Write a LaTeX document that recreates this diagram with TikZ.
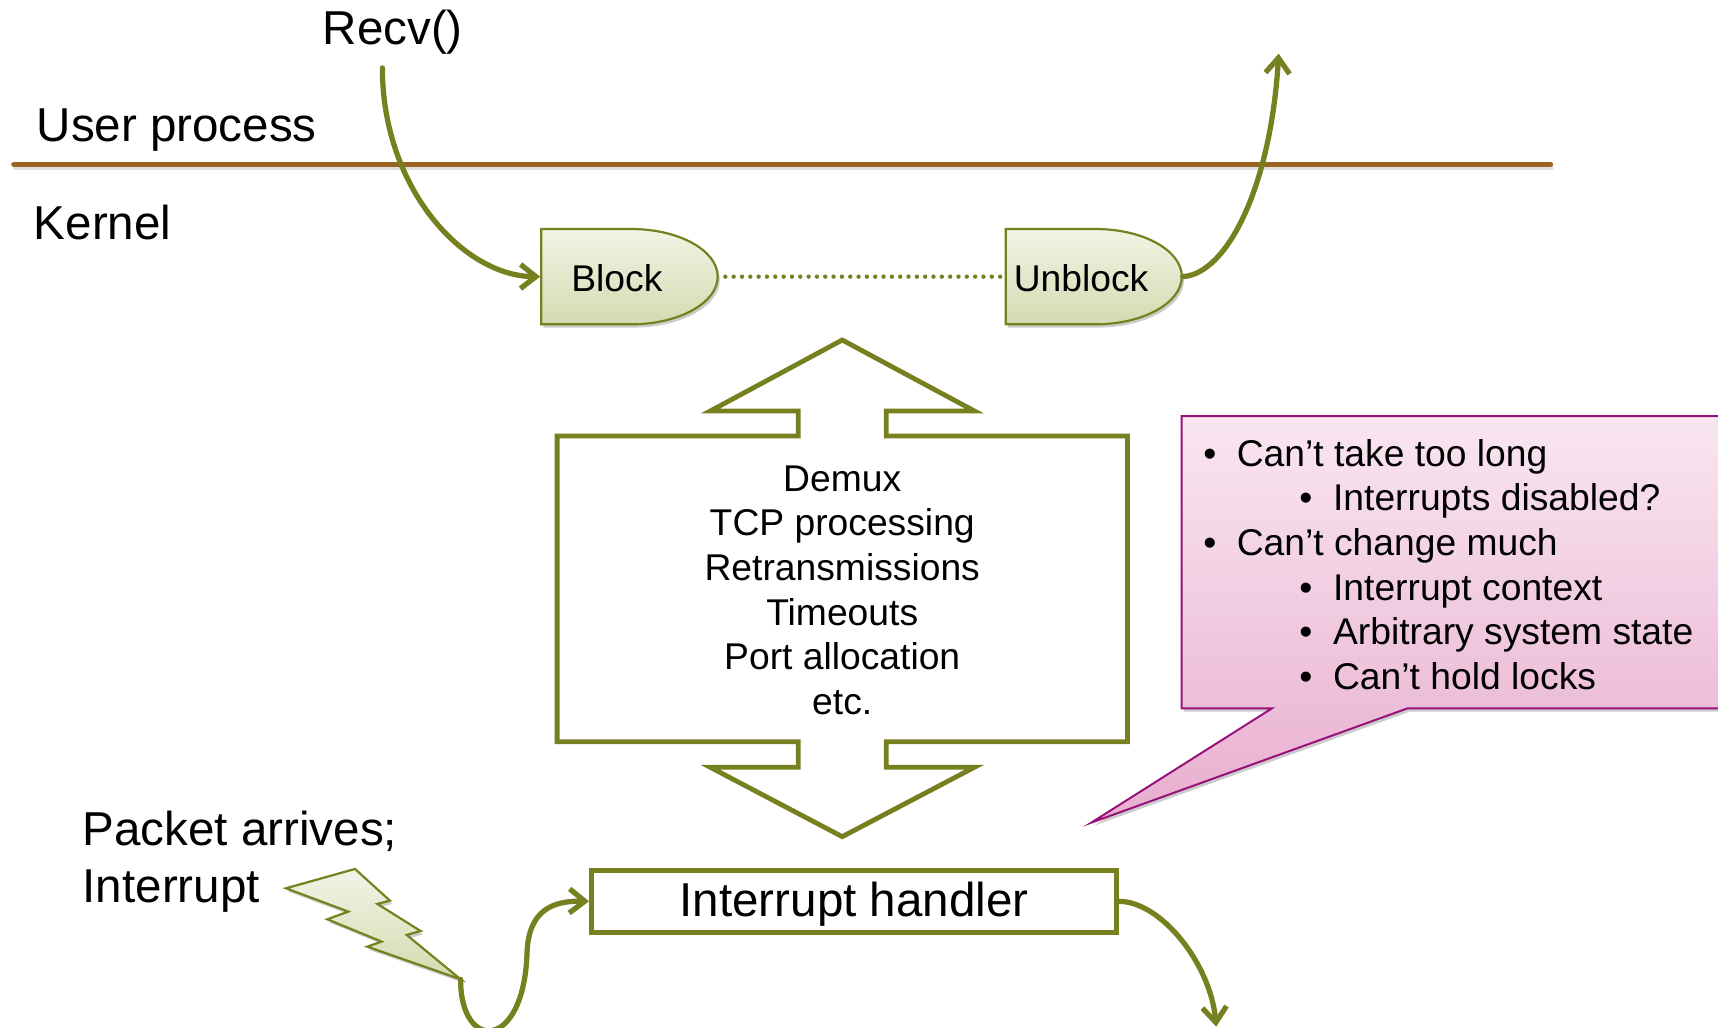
\documentclass[tikz,border=0pt]{standalone}
\usepackage{fontspec}
\setmainfont{Liberation Sans}
\usetikzlibrary{arrows.meta,shadows}
\definecolor{olv}{HTML}{76801E}
\definecolor{brn}{HTML}{9B6421}
\definecolor{gTop}{HTML}{F2F4E6}
\definecolor{gBot}{HTML}{D3DBB0}
\definecolor{pTop}{HTML}{F9E6F0}
\definecolor{pBot}{HTML}{E8AECF}
\definecolor{pBorder}{HTML}{98107A}
\begin{document}
\begin{tikzpicture}[x=0.5pt,y=-0.5pt,
  fbig/.style={font=\fontsize{21.7}{25.85}\selectfont},
  fsmall/.style={font=\fontsize{17}{20.38}\selectfont},
  txt/.style={inner sep=0pt, outer sep=0pt},
  conn/.style={draw=olv, line width=2.4pt, line cap=round, -{Straight Barb[length=7pt,width=11pt]}},
  softshadow/.style={drop shadow={shadow xshift=1pt, shadow yshift=-1.5pt, opacity=0.2, fill=black}},
  dshape/.style={draw=olv, line width=1pt, top color=gTop, bottom color=gBot, softshadow},
  dotline/.style={draw=olv, line width=2pt, line cap=round, dash pattern=on 0pt off 3.8pt},
  bigarrow/.style={draw=olv, line width=2.2pt, fill=white, line join=miter},
  ihbox/.style={draw=olv, line width=2.4pt, fill=white, minimum width=239.5pt, minimum height=28.35pt,
    inner sep=0pt, text height=15.5pt, text depth=1.5pt},
  bolt/.style={draw=olv, line width=1pt, top color=gTop, bottom color=gBot, softshadow, line join=miter},
  callout/.style={draw=pBorder, line width=0.9pt, top color=pTop, bottom color=pBot, softshadow, line join=miter},
  divider/.style={draw=brn, line width=2.3pt, line cap=round}
]
\useasboundingbox (0,0) rectangle (1568,938);

% divider line between user process and kernel
\draw[black!25, line width=2pt, line cap=round, opacity=0.5] (14,153.5) -- (1416,153.5);
\draw[divider] (12.5,150) -- (1415.3,150);

% labels
\node[txt, fbig, anchor=base west] (recv) at (294.5,41) {Recv()};
\node[txt, fbig, anchor=base west] (user) at (33.5,129.3) {User process};
\node[txt, fbig, anchor=base west] (kernel) at (31,218.4) {Kernel};

% Block / Unblock shapes
\path[dshape] (494,209) -- (576,209) .. controls (619.6,209) and (655,228.5) .. (655,252.5)
  .. controls (655,276.5) and (619.6,296) .. (576,296) -- (494,296) -- cycle;
\path[dshape] (918,209) -- (999.7,209) .. controls (1043.3,209) and (1078.6,228.5) .. (1078.6,252.5)
  .. controls (1078.6,276.5) and (1043.3,296) .. (999.7,296) -- (918,296) -- cycle;
\node[txt, fsmall, anchor=base] (block) at (563,266.2) {Block};
\node[txt, fsmall, anchor=base] (unblock) at (986.7,266.2) {Unblock};

\coordinate (recvS) at (349,62);
\coordinate (blockW) at (493,252.5);
\coordinate (blockE) at (655,252.5);
\coordinate (unblockW) at (918,252.5);
\coordinate (unblockE) at (1079.5,252.5);
\coordinate (unblockUp) at (1167,49);

\draw[dotline] ([xshift=3.5pt]blockE) -- ([xshift=-2pt]unblockW);
\draw[conn] (recvS) .. controls (349,172) and (423,252) .. (blockW);
\draw[conn] (unblockE) .. controls (1120,250) and (1160,170) .. (unblockUp);

% big double arrow
\path[bigarrow] (768.7,310.3) -- (889.3,375.1) -- (808.9,375.1) -- (808.9,397.9) -- (1029,397.9)
  -- (1029,676.9) -- (808.9,676.9) -- (808.9,700.3) -- (889.3,700.3) -- (768.7,763.6)
  -- (648.3,700.3) -- (728.6,700.3) -- (728.6,676.9) -- (508.5,676.9) -- (508.5,397.9)
  -- (728.6,397.9) -- (728.6,375.1) -- (648.3,375.1) -- cycle;
\node[txt, fsmall, align=center, anchor=north] (tasks) at (768.7,424.9)
  {Demux\\TCP processing\\Retransmissions\\Timeouts\\Port allocation\\etc.};

% callout
\path[callout] (1078.5,379.7) -- (1600,379.7) -- (1600,646.5) -- (1284.6,646.5) -- (996,750.8)
  -- (1160.9,646.5) -- (1078.5,646.5) -- cycle;
\node[txt, fsmall, align=left, anchor=north west] (notes) at (1098.4,400.75)
  {\makebox[15.2pt][l]{•}Can’t take too long\\
   \hspace*{43.75pt}\makebox[15.4pt][l]{•}Interrupts disabled?\\
   \makebox[15.2pt][l]{•}Can’t change much\\
   \hspace*{43.75pt}\makebox[15.4pt][l]{•}Interrupt context\\
   \hspace*{43.75pt}\makebox[15.4pt][l]{•}Arbitrary system state\\
   \hspace*{43.75pt}\makebox[15.4pt][l]{•}Can’t hold locks};

% packet arrives
\node[txt, fbig, align=left, anchor=north west] (packet) at (75.5,740.1) {Packet arrives;\\Interrupt};

% lightning bolt
\path[bolt] (261.0,810.7) -- (324.0,793.1) -- (355.9,822.0) -- (344.4,825.0) -- (383.9,849.7)
  -- (371.2,853.3) -- (420.4,893.8) -- (335.2,864.0) -- (348.3,859.4) -- (298.7,839.0)
  -- (317.9,832.0) -- cycle;
\coordinate (boltTip) at (420.4,893.8);

% interrupt handler
\node[ihbox, fbig] (ih) at (779.5,822.6) {Interrupt handler};
\coordinate (outEnd) at (1110,937);

\draw[conn] (boltTip) .. controls (420,960) and (478,960) .. (481,870)
  .. controls (482.3,830) and (505,822) .. (ih.west);
\draw[conn] (ih.east) .. controls (1060,823) and (1105,880) .. (outEnd);
\end{tikzpicture}
\end{document}
